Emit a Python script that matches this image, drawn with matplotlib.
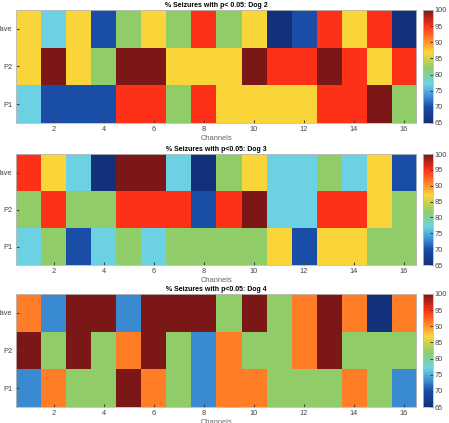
import numpy as np
import matplotlib
matplotlib.use("Agg")
import matplotlib.pyplot as plt
from matplotlib.colors import LinearSegmentedColormap

plt.rcParams['font.family'] = ['Liberation Sans', 'DejaVu Sans']

channels = np.arange(1, 17)
row_labels = ['P1', 'P2', 'Wave']
titles = ['% Seizures with p< 0.05: Dog 2',
          '% Seizures with p<0.05: Dog 3',
          '% Seizures with p<0.05: Dog 4']

# values in %, rows listed bottom (P1) to top (Wave)
dog2_p1 = [77, 70, 70, 70, 95, 95, 82, 95, 87, 87, 87, 87, 95, 95, 100, 82]
dog2_p2 = [87, 100, 87, 82, 100, 100, 87, 87, 87, 100, 95, 95, 100, 95, 87, 95]
dog2_wave = [87, 77, 87, 70, 82, 87, 82, 95, 82, 87, 65, 70, 95, 87, 95, 65]

dog3_p1 = [77, 82, 70, 77, 82, 77, 82, 82, 82, 82, 87, 70, 87, 87, 82, 82]
dog3_p2 = [82, 95, 82, 82, 95, 95, 95, 70, 95, 100, 77, 77, 95, 95, 87, 82]
dog3_wave = [95, 87, 77, 65, 100, 100, 77, 65, 82, 87, 77, 77, 82, 77, 87, 70]

dog4_p1 = [73, 91, 82, 82, 100, 91, 82, 73, 91, 91, 82, 82, 82, 91, 82, 73]
dog4_p2 = [100, 82, 100, 82, 91, 100, 82, 73, 91, 82, 82, 91, 100, 82, 82, 82]
dog4_wave = [91, 73, 100, 100, 73, 100, 100, 100, 82, 100, 82, 91, 100, 91, 65, 91]

dogs = [[dog2_p1, dog2_p2, dog2_wave],
        [dog3_p1, dog3_p2, dog3_wave],
        [dog4_p1, dog4_p2, dog4_wave]]

vmin, vmax = 65, 100
nodes = [(65, '#13307a'), (70, '#1b4ea6'), (73, '#3a8bd2'), (77, '#6dd3e3'),
         (82, '#90cd6a'), (87, '#fad63a'), (91, '#ff7f27'), (95, '#ff3119'),
         (100, '#7b1716')]
cmap = LinearSegmentedColormap.from_list(
    'custom', [((v - vmin) / (vmax - vmin), c) for v, c in nodes])

fig = plt.figure(figsize=(4.49, 4.23), dpi=100)
W, H = 449, 423
# axes boxes in pixels: top, bottom
boxes = [(10, 123), (154, 265), (294, 407)]
left, right = 16, 416
cb_left, cb_right = 423, 433

for data, title, (top, bot) in zip(dogs, titles, boxes):
    ax = fig.add_axes([left / W, 1 - bot / H, (right - left) / W, (bot - top) / H])
    im = ax.imshow(np.array(data), cmap=cmap, vmin=vmin, vmax=vmax,
                   origin='lower', aspect='auto', interpolation='nearest',
                   extent=[0.5, 16.5, 0.5, 3.5])
    ax.set_xticks(channels[1::2])
    ax.set_yticks([1, 2, 3])
    ax.set_yticklabels(row_labels)
    ax.tick_params(direction='in', length=2, labelsize=5.3, colors='#444444',
                   pad=2.5)
    ax.set_xlabel('Channels', fontsize=5.4, color='#666666', labelpad=1)
    ax.set_title(title, fontsize=5, fontweight='bold', pad=2.5)
    for s in ax.spines.values():
        s.set_color('#bbbbbb')
        s.set_linewidth(0.6)
    cax = fig.add_axes([cb_left / W, 1 - bot / H, (cb_right - cb_left) / W,
                        (bot - top) / H])
    cb = fig.colorbar(im, cax=cax, ticks=range(65, 101, 5))
    cb.ax.tick_params(labelsize=5.3, length=2, direction='in', colors='#444444',
                      pad=1)
    cb.outline.set_edgecolor('#bbbbbb')
    cb.outline.set_linewidth(0.6)

fig.savefig('out.png', dpi=100)
